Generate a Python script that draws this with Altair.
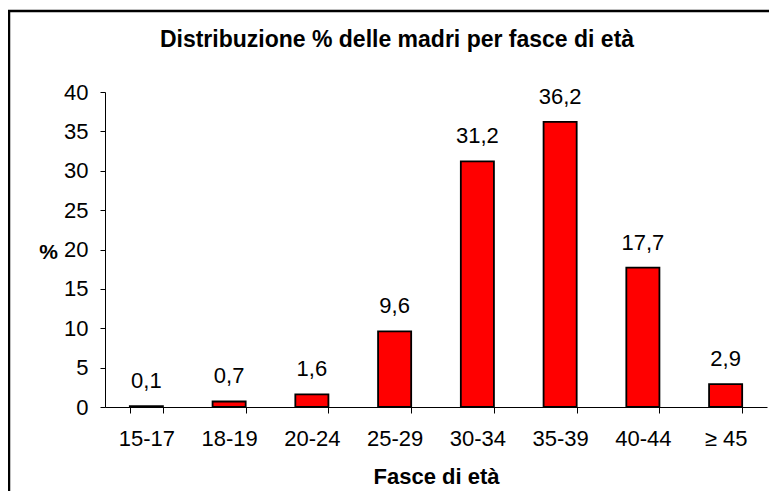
import altair as alt
import pandas as pd

categories = ["15-17", "18-19", "20-24", "25-29", "30-34", "35-39", "40-44", "≥ 45"]
values = [0.1, 0.7, 1.6, 9.6, 31.2, 36.2, 17.7, 2.9]
y_ticks = [0, 5, 10, 15, 20, 25, 30, 35, 40]
title_text = "Distribuzione % delle madri per fasce di età"

df = pd.DataFrame({
    "fascia": categories,
    "pct": values,
    "label": [f"{v:.1f}".replace(".", ",") for v in values],
})

FONT = "Liberation Sans"
W, H = 662, 315

x_enc = alt.X(
    "fascia:N",
    sort=categories,
    scale=alt.Scale(paddingInner=0.6, paddingOuter=0.3),
    axis=alt.Axis(
        title="Fasce di età",
        labelAngle=0,
        tickBand="extent",
        tickSize=6,
        labelPadding=15,
        labelFont=FONT,
        labelFontSize=22,
        labelColor="black",
        domainColor="black",
        tickColor="black",
        grid=False,
        titleFont=FONT,
        titleFontSize=22,
        titleFontWeight="bold",
        titleColor="black",
        titleX=W / 2,
        titleY=76,
        titleAlign="center",
        titleBaseline="alphabetic",
    ),
)
y_enc = alt.Y(
    "pct:Q",
    scale=alt.Scale(domain=[0, 40], nice=False),
    axis=alt.Axis(
        values=y_ticks,
        labelOverlap=False,
        title="%",
        titleAngle=0,
        titleX=-57,
        titleY=166,
        titleAlign="center",
        titleBaseline="alphabetic",
        titleFont=FONT,
        titleFontSize=21,
        titleFontWeight="bold",
        titleColor="black",
        grid=False,
        tickSize=5,
        labelPadding=12,
        labelFont=FONT,
        labelFontSize=22,
        labelColor="black",
        domainColor="black",
        tickColor="black",
    ),
)

base = alt.Chart(df)
bars = base.mark_bar(color="#FF0000", stroke="black", strokeWidth=1.8).encode(x=x_enc, y=y_enc)
labels = base.mark_text(
    baseline="alphabetic", dy=-18, font=FONT, fontSize=22, color="black"
).encode(x=x_enc, y=y_enc, text="label:N")

frame = alt.Chart(pd.DataFrame({"a": [0]})).mark_rect(
    filled=False, stroke="black", strokeWidth=2.5
).encode(
    x=alt.value(-96), x2=alt.value(720), y=alt.value(-81), y2=alt.value(440)
)

title = alt.Chart(pd.DataFrame({"t": [title_text]})).mark_text(
    font=FONT, fontSize=23, fontWeight="bold", color="black",
    align="center", baseline="alphabetic",
).encode(x=alt.value(292), y=alt.value(-45), text="t:N")

chart = (
    alt.layer(frame, bars, labels, title)
    .properties(
        width=W,
        height=H,
        autosize=alt.AutoSizeParams(type="none"),
        padding={"left": 97, "top": 84, "right": 2, "bottom": 84},
    )
    .configure(
        background="white",
        view=alt.ViewConfig(stroke="transparent", strokeWidth=0),
        style={"cell": {"stroke": "transparent", "strokeWidth": 0}},
        axis=alt.AxisConfig(grid=False),
    )
)

chart.save("out.html", embed_options={"renderer": "svg", "actions": False})
